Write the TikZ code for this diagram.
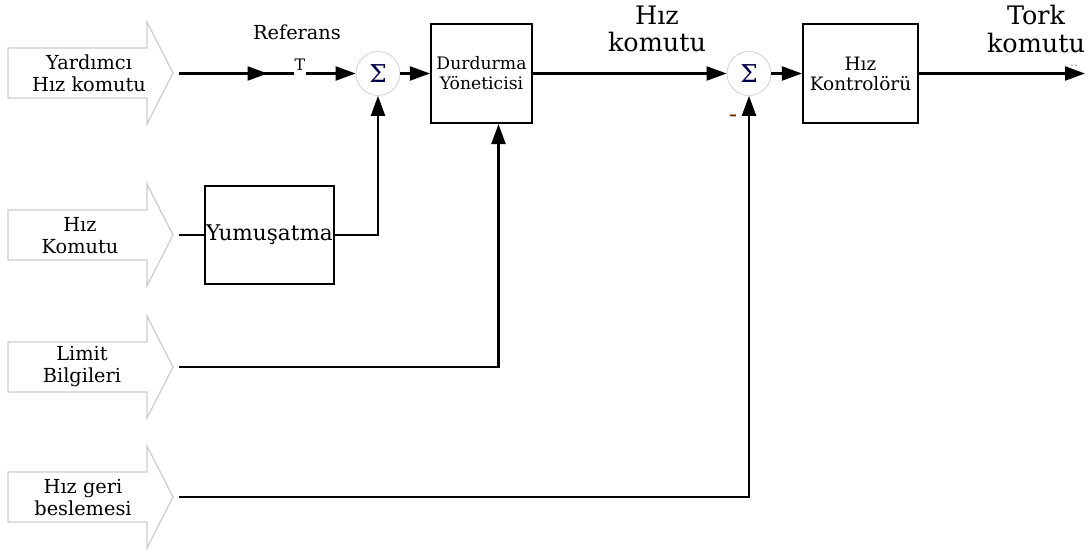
\documentclass[tikz,border=0pt]{standalone}
\usepackage{fontspec}
\setmainfont{DejaVu Serif}
\usetikzlibrary{arrows.meta}
\usetikzlibrary{decorations.markings}
\tikzset{
  wire/.style={line width=1.2pt, -{Triangle[length=0.4cm,width=0.28cm]}},
  plain wire/.style={line width=1.2pt},
  mid arrow/.style={
    decoration={
      markings,
      mark=at position #1 with {\arrow{Triangle[length=0.4cm,width=0.28cm]}},
    },
    postaction={decorate},
  },
  block/.style={draw, line width=1.2pt, align=center, inner sep=0pt},
  sum/.style={circle, draw=gray!40, minimum size=0.88cm, inner sep=0pt,
    text=blue!30!black, font=\fontsize{14}{14}\selectfont},
  inarrow/.style={draw=gray!40, fill=white, line width=0.7pt},
  intext/.style={align=center, font=\fontsize{11}{12.5}\selectfont},
  bigtext/.style={align=center, font=\fontsize{14.5}{15.5}\selectfont},
}

\begin{document}
\begin{tikzpicture}[x=0.02cm, y=-0.02cm]

  \useasboundingbox (0,0) rectangle (1089,554);

  % Input arrows
  \foreach \y in {73,235,367,497}
    \draw[inarrow] (8,\y-25) -- (147,\y-25) -- (147,\y-51) -- (173,\y)
      -- (147,\y+51) -- (147,\y+25) -- (8,\y+25) -- cycle;

  \node[intext] (yard) at (89,73) {Yardımcı\\Hız komutu};
  \node[intext] (kom) at (80,236) {Hız\\Komutu};
  \node[intext] (lim) at (82,367) {Limit\\Bilgileri};
  \node[intext] (geri) at (83,498) {Hız geri\\beslemesi};

  \coordinate (yard out) at (179,73.5);
  \coordinate (kom out) at (179,235);
  \coordinate (lim out) at (179,367);
  \coordinate (geri out) at (179,497);

  % Blocks
  \node[sum] (sum1) at (378,73.5) {Σ};
  \node[block, minimum width=2.02cm, minimum height=1.98cm,
    font=\fontsize{9.8}{11.4}\selectfont] (durd) at (481.5,73.5) {Durdurma\\Yöneticisi};
  \node[sum] (sum2) at (749,73.5) {Σ};
  \node[block, minimum width=2.3cm, minimum height=1.98cm,
    font=\fontsize{10.5}{11.4}\selectfont] (hizk) at (860.5,73.5) {Hız\\Kontrolörü};
  \node[block, minimum width=2.58cm, minimum height=1.96cm,
    font=\fontsize{12.3}{12}\selectfont] (yum) at (269.5,235) {Yumuşatma};

  % Labels
  \node[intext] (refl) at (297,32) {Referans};
  \node[font=\fontsize{9}{9}\selectfont, inner sep=0pt] (tmark) at (300,65) {T};
  \coordinate (tleft) at (294,73.5);
  \coordinate (tright) at (306,73.5);
  \node[bigtext] (hizl) at (657,29) {Hız\\komutu};
  \node[bigtext] (torkl) at (1036,29) {Tork\\komutu};
  \node[font=\fontsize{7}{7}\selectfont, text=gray, inner sep=0pt] (dots) at (1074,66) {..};
  \node[font=\fontsize{14}{14}\selectfont, text=orange!40!black, inner sep=0pt] (minus) at (733,119) {-};
  \coordinate (tork out) at (1085,73.5);

  % Connect nodes
  \draw[plain wire, mid arrow=0.77] (yard out) -- (tleft);
  \draw[wire] (tright) -- (sum1);
  \draw[wire] (sum1) -- (durd);
  \draw[wire] (durd) -- (sum2);
  \draw[wire] (sum2) -- (hizk);
  \draw[wire] (hizk) -- (tork out);

  \draw[plain wire] (kom out) -- (yum);
  \draw[wire] (yum.east) -| (sum1);
  \draw[wire] (lim out) -| ([xshift=0.34cm]durd.south);
  \draw[wire] (geri out) -| (sum2);

\end{tikzpicture}
\end{document}
